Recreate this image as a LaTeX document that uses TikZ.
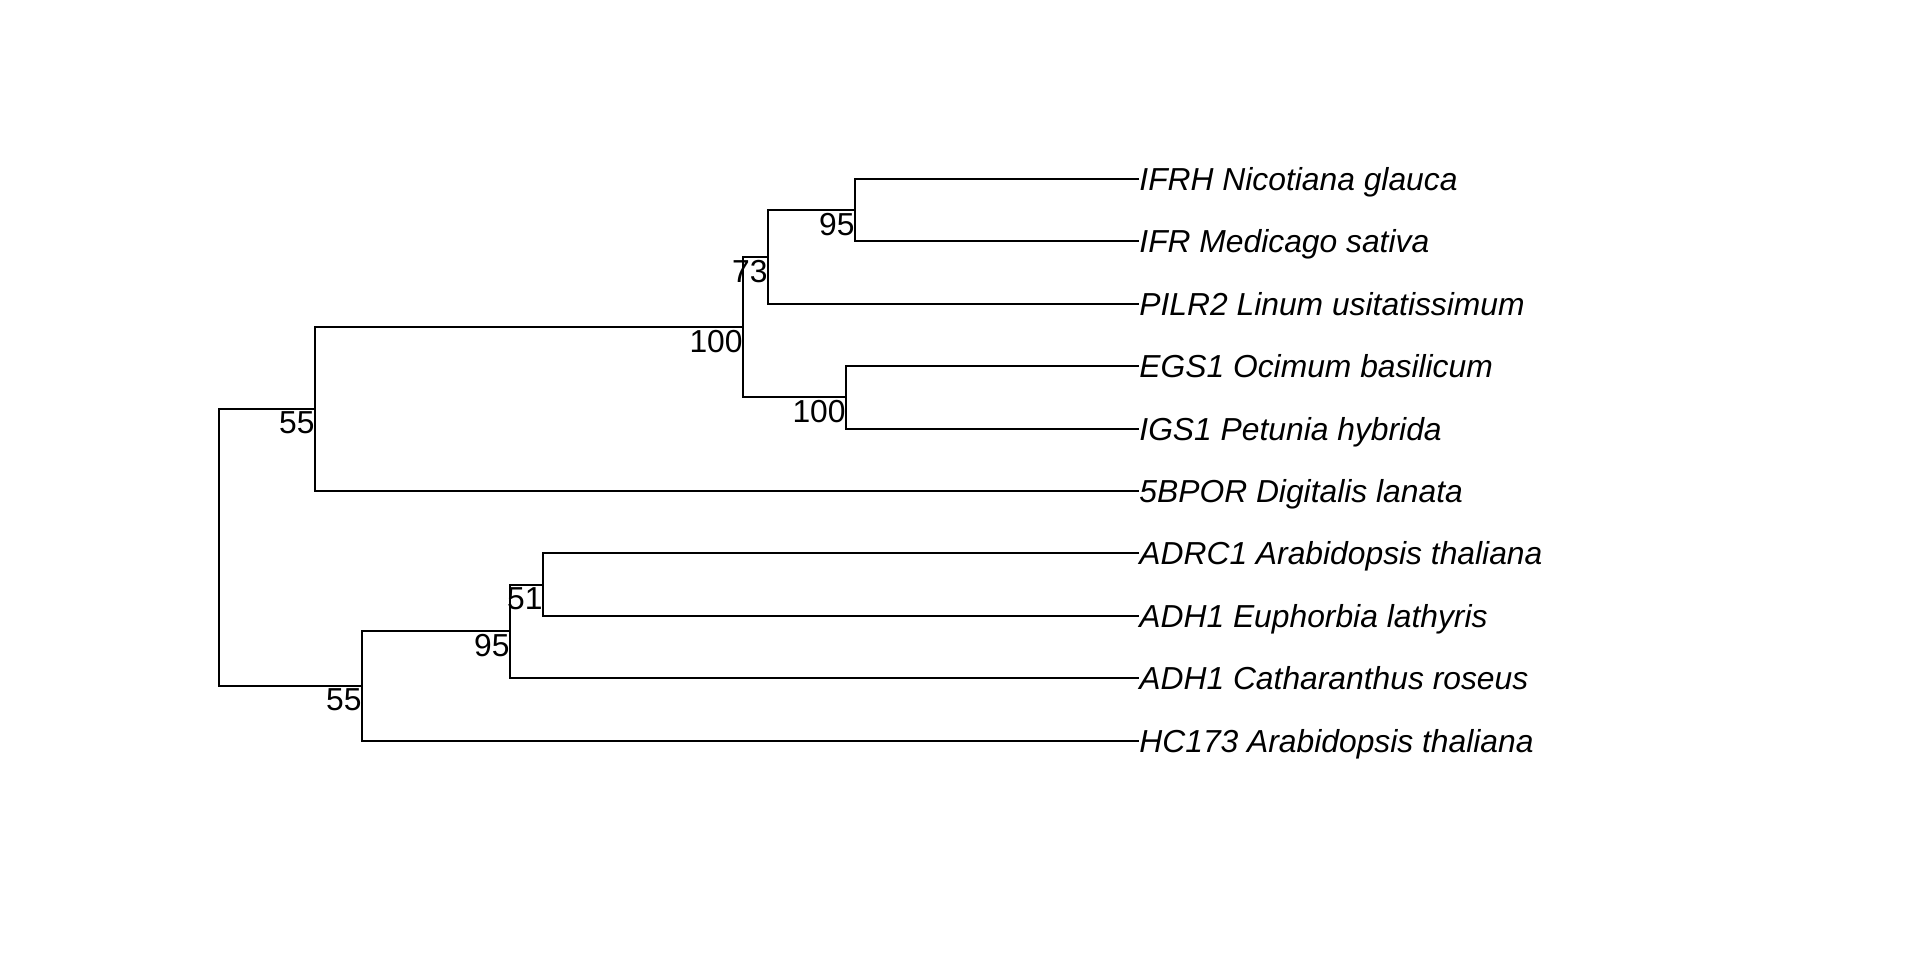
\documentclass[tikz,border=0pt]{standalone}
\usepackage{fontspec}
\setmainfont{Liberation Sans}
\begin{document}
\begin{tikzpicture}[x=0.5pt,y=-0.5pt,
  branch/.style={line width=1pt},
  tiplabel/.style={anchor=base west, inner sep=0pt, font=\fontsize{15.9}{19}\selectfont\itshape, yshift=-5.7pt},
  boot/.style={anchor=north east, inner sep=0pt, font=\fontsize{15.9}{19}\selectfont, yshift=-1.2pt}]
\useasboundingbox (0,0) rectangle (1920,960);
% tips
\coordinate (t1) at (1139,179);
\coordinate (t2) at (1139,241);
\coordinate (t3) at (1139,304);
\coordinate (t4) at (1139,366);
\coordinate (t5) at (1139,429);
\coordinate (t6) at (1139,491);
\coordinate (t7) at (1139,553);
\coordinate (t8) at (1139,616);
\coordinate (t9) at (1139,678);
\coordinate (t10) at (1139,741);
% internal nodes
\coordinate (D) at (855,210);
\coordinate (C) at (768,257);
\coordinate (E) at (846,397);
\coordinate (B) at (743,327);
\coordinate (A) at (315,409);
\coordinate (H) at (543,585);
\coordinate (G) at (510,631);
\coordinate (F) at (362,686);
\coordinate (R) at (219,548);
% branches
\draw[branch] (t1) -| (D) |- (t2);
\draw[branch] (D) -| (C) |- (t3);
\draw[branch] (t4) -| (E) |- (t5);
\draw[branch] (C) -| (B) |- (E);
\draw[branch] (B) -| (A) |- (t6);
\draw[branch] (t7) -| (H) |- (t8);
\draw[branch] (H) -| (G) |- (t9);
\draw[branch] (G) -| (F) |- (t10);
\draw[branch] (A) -| (R) |- (F);
% tip labels
\node[tiplabel] (l1) at (t1) {IFRH Nicotiana glauca};
\node[tiplabel] (l2) at (t2) {IFR Medicago sativa};
\node[tiplabel] (l3) at (t3) {PILR2 Linum usitatissimum};
\node[tiplabel] (l4) at (t4) {EGS1 Ocimum basilicum};
\node[tiplabel] (l5) at (t5) {IGS1 Petunia hybrida};
\node[tiplabel] (l6) at (t6) {5BPOR Digitalis lanata};
\node[tiplabel] (l7) at (t7) {ADRC1 Arabidopsis thaliana};
\node[tiplabel] (l8) at (t8) {ADH1 Euphorbia lathyris};
\node[tiplabel] (l9) at (t9) {ADH1 Catharanthus roseus};
\node[tiplabel] (l10) at (t10) {HC173 Arabidopsis thaliana};
% bootstrap labels
\node[boot] (bA) at (A) {55};
\node[boot] (bB) at (B) {100};
\node[boot] (bC) at (C) {73};
\node[boot] (bD) at (D) {95};
\node[boot] (bE) at (E) {100};
\node[boot] (bF) at (F) {55};
\node[boot] (bG) at (G) {95};
\node[boot] (bH) at (H) {51};
\end{tikzpicture}
\end{document}
